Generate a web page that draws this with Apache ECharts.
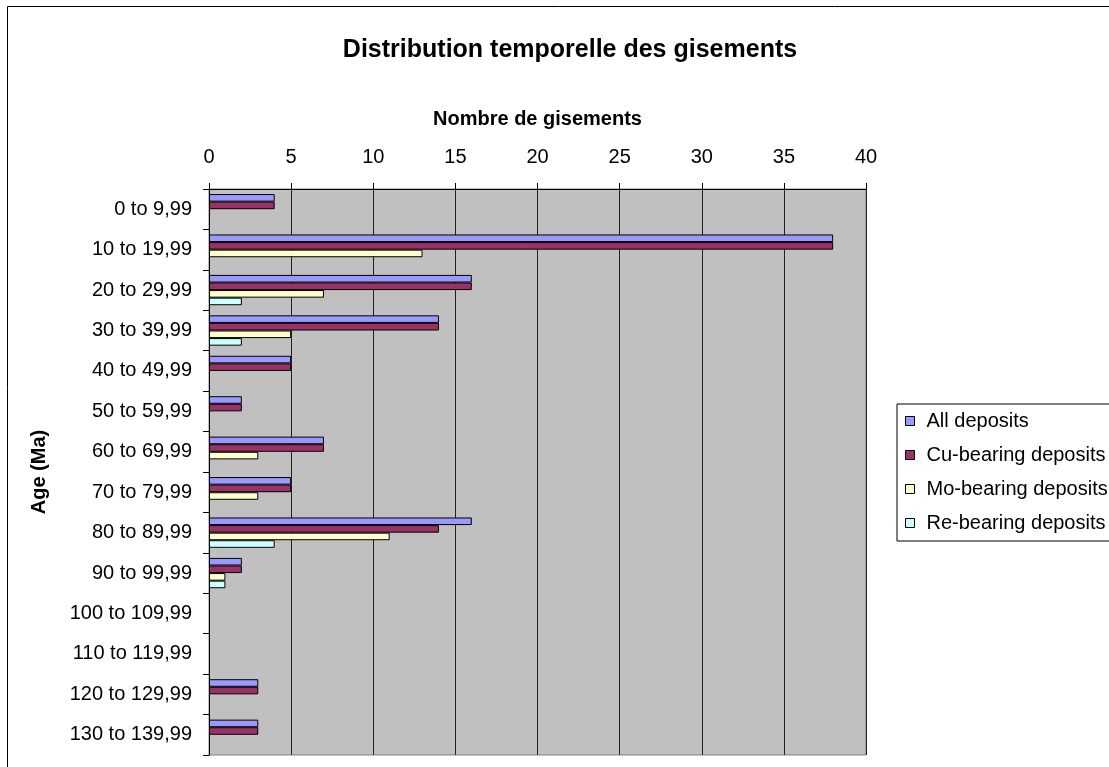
<!DOCTYPE html>
<html>
<head>
<meta charset="utf-8">
<script src="https://cdn.jsdelivr.net/npm/echarts@6/dist/echarts.min.js"></script>
<style>
  html, body { margin: 0; padding: 0; background: #fff; }
  #chart { width: 1109px; height: 767px; }
</style>
</head>
<body>
<div id="chart"></div>
<script>
// Age classes (Ma)
const categories = [
  '0 to 9,99', '10 to 19,99', '20 to 29,99', '30 to 39,99', '40 to 49,99',
  '50 to 59,99', '60 to 69,99', '70 to 79,99', '80 to 89,99', '90 to 99,99',
  '100 to 109,99', '110 to 119,99', '120 to 129,99', '130 to 139,99'
];

// Number of deposits per age class
const allDeposits = [4, 38, 16, 14, 5, 2, 7, 5, 16, 2, 0, 0, 3, 3];
const cuDeposits  = [4, 38, 16, 14, 5, 2, 7, 5, 14, 2, 0, 0, 3, 3];
const moDeposits  = [0, 13, 7, 5, 0, 0, 3, 3, 11, 1, 0, 0, 0, 0];
const reDeposits  = [0, 0, 2, 2, 0, 0, 0, 0, 4, 1, 0, 0, 0, 0];

const seriesNames = ['All deposits', 'Cu-bearing deposits', 'Mo-bearing deposits', 'Re-bearing deposits'];
const seriesColors = ['#9999FF', '#993366', '#FFFFCC', '#CCFFFF'];
const seriesData = [allDeposits, cuDeposits, moDeposits, reDeposits];

const font = '"Liberation Sans", Arial, sans-serif';

const chart = echarts.init(document.getElementById('chart'));

chart.setOption({
  animation: false,
  backgroundColor: '#ffffff',
  textStyle: { fontFamily: font },
  title: {
    text: 'Distribution temporelle des gisements',
    left: 565,
    top: 33,
    textAlign: 'center',
    textStyle: { fontFamily: font, fontSize: 25, fontWeight: 'bold', color: '#000' }
  },
  legend: {
    orient: 'vertical',
    left: 897,
    top: 404,
    itemWidth: 9,
    itemHeight: 9,
    itemGap: 14,
    icon: 'rect',
    data: seriesNames,
    textStyle: { fontFamily: font, fontSize: 20, lineHeight: 20, color: '#000', padding: [0, 0, 0, 7] },
    borderColor: '#000',
    borderWidth: 1,
    padding: [7, 60, 8, 8],
    itemStyle: { borderColor: '#000', borderWidth: 1 }
  },
  grid: {
    left: 209,
    top: 189,
    right: 243,
    bottom: 12,
    show: true,
    backgroundColor: '#C0C0C0',
    borderColor: '#808080',
    borderWidth: 1
  },
  xAxis: {
    type: 'value',
    position: 'top',
    min: 0,
    max: 40,
    interval: 5,
    name: 'Nombre de gisements',
    nameLocation: 'middle',
    nameGap: 60,
    nameTextStyle: { fontFamily: font, fontSize: 20, fontWeight: 'bold', color: '#000' },
    axisLine: { show: true, lineStyle: { color: '#000', width: 1 } },
    axisTick: { show: true, length: 6, lineStyle: { color: '#000' } },
    axisLabel: { fontFamily: font, fontSize: 20, color: '#000', margin: 22 },
    splitLine: { show: true, lineStyle: { color: '#222', width: 1 } }
  },
  yAxis: {
    type: 'category',
    inverse: true,
    data: categories,
    name: 'Age (Ma)',
    nameLocation: 'middle',
    nameGap: 160,
    nameRotate: 90,
    nameTextStyle: { fontFamily: font, fontSize: 20, fontWeight: 'bold', color: '#000' },
    axisLine: { show: true, lineStyle: { color: '#000', width: 1 } },
    axisTick: { show: true, length: 6, lineStyle: { color: '#000' } },
    axisLabel: { fontFamily: font, fontSize: 20, color: '#000', margin: 17 },
    splitLine: { show: false }
  },
  series: seriesData.map((d, i) => ({
    type: 'bar',
    name: seriesNames[i],
    data: d.map(v => (v === 0 ? null : v)),
    barGap: '0%',
    barCategoryGap: '25%',
    itemStyle: { color: seriesColors[i], borderColor: '#000', borderWidth: 1 }
  })),
  graphic: [{
    type: 'rect',
    shape: { x: 7.5, y: 6.5, width: 1200, height: 900 },
    style: { fill: 'none', stroke: '#000', lineWidth: 1 },
    silent: true,
    z: 100
  }]
});
</script>
</body>
</html>
